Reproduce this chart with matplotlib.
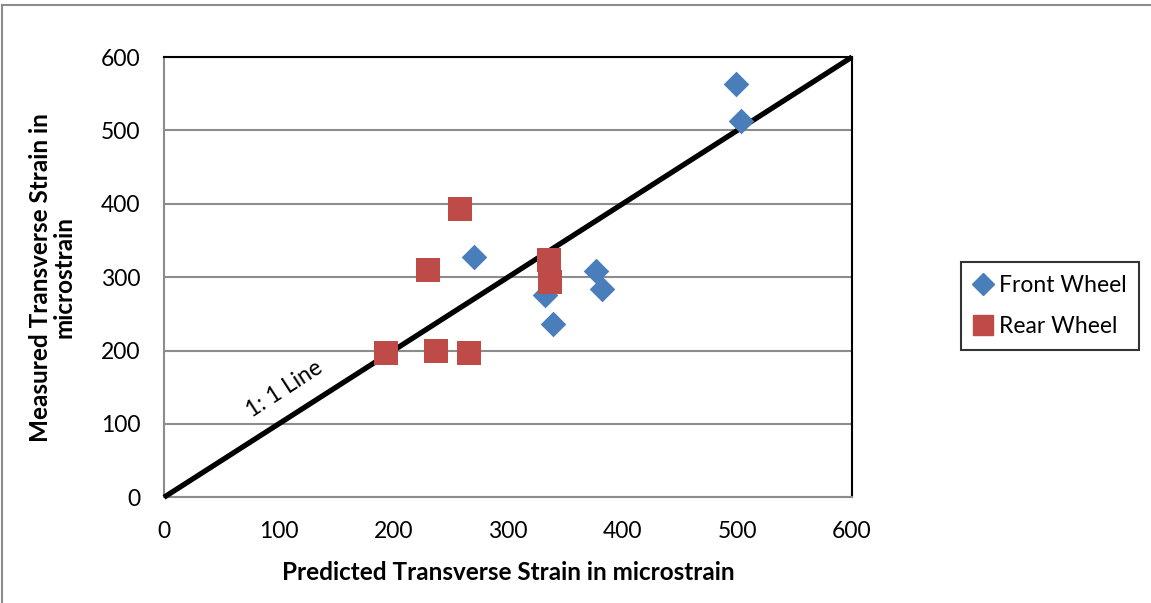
import matplotlib
matplotlib.use("Agg")
import matplotlib.pyplot as plt
from matplotlib.lines import Line2D

plt.rcParams['font.family'] = ['Lato', 'DejaVu Sans']

front_x = [270, 332, 339, 377, 382, 499, 503]
front_y = [327, 276, 236, 309, 284, 563, 513]
rear_x = [258, 230, 336, 337, 194, 237, 266]
rear_y = [393, 310, 324, 294, 197, 200, 196]
line_x = [0, 600]
line_y = [0, 600]
ticks = [0, 100, 200, 300, 400, 500, 600]

W, H = 1151, 603
fig = plt.figure(figsize=(W / 100, H / 100), dpi=100)
ax = fig.add_axes([164 / W, 1 - 497.3 / H, (852 - 164) / W, (497.3 - 57) / H])

ax.set_xlim(0, 600)
ax.set_ylim(0, 600)
ax.set_xticks(ticks)
ax.set_yticks(ticks)
ax.yaxis.grid(True, color='#8c8c8c', linewidth=1.5)
ax.set_axisbelow(True)
ax.tick_params(length=0, labelsize=16.5)
ax.tick_params(axis='x', pad=17)
ax.tick_params(axis='y', pad=17)

for s in ['left', 'bottom']:
    ax.spines[s].set_color('#8c8c8c')
    ax.spines[s].set_linewidth(1.5)
for s in ['top', 'right']:
    ax.spines[s].set_color('black')
    ax.spines[s].set_linewidth(1.5)

ax.plot(line_x, line_y, color='black', linewidth=3.8, zorder=3, clip_on=False,
        solid_capstyle='butt')
ax.scatter(front_x, front_y, marker='D', s=170, color='#4a7ebb', zorder=4,
           label='Front Wheel', linewidths=0)
ax.scatter(rear_x, rear_y, marker='s', s=290, color='#be4b48', zorder=4,
           label='Rear Wheel', linewidths=0)

ax.text(105, 148, '1: 1 Line', rotation=33, fontsize=16.5, ha='center', va='center',
        rotation_mode='anchor')

ax.set_xlabel('Predicted Transverse Strain in microstrain', fontsize=17.5,
              fontweight='bold', va='center')
ax.xaxis.set_label_coords(0.5, (497.3 - 572) / 440.3)
ax.set_ylabel('Measured Transverse Strain in\nmicrostrain', fontsize=17.5,
              fontweight='bold', va='center', linespacing=1.05)
ax.yaxis.set_label_coords((52 - 164) / 688, 0.5)

handles = [
    Line2D([], [], marker='D', color='#4a7ebb', linestyle='None', markersize=11),
    Line2D([], [], marker='s', color='#be4b48', linestyle='None', markersize=14),
]
leg = fig.legend(handles, ['Front Wheel', 'Rear Wheel'],
                 loc='center', bbox_to_anchor=(1050 / W, 1 - 306 / H),
                 fontsize=16.5, frameon=True, fancybox=False, edgecolor='black',
                 handlelength=0.8, handletextpad=0.3, labelspacing=0.9,
                 borderpad=0.55)
leg.get_frame().set_linewidth(1.5)

# chart-area border (top and left)
fig.add_artist(Line2D([2 / W, 1], [1 - 5 / H, 1 - 5 / H], color='#8c8c8c', linewidth=1.5))
fig.add_artist(Line2D([2 / W, 2 / W], [0, 1 - 5 / H], color='#8c8c8c', linewidth=1.5))

fig.savefig('out.png', dpi=100)
